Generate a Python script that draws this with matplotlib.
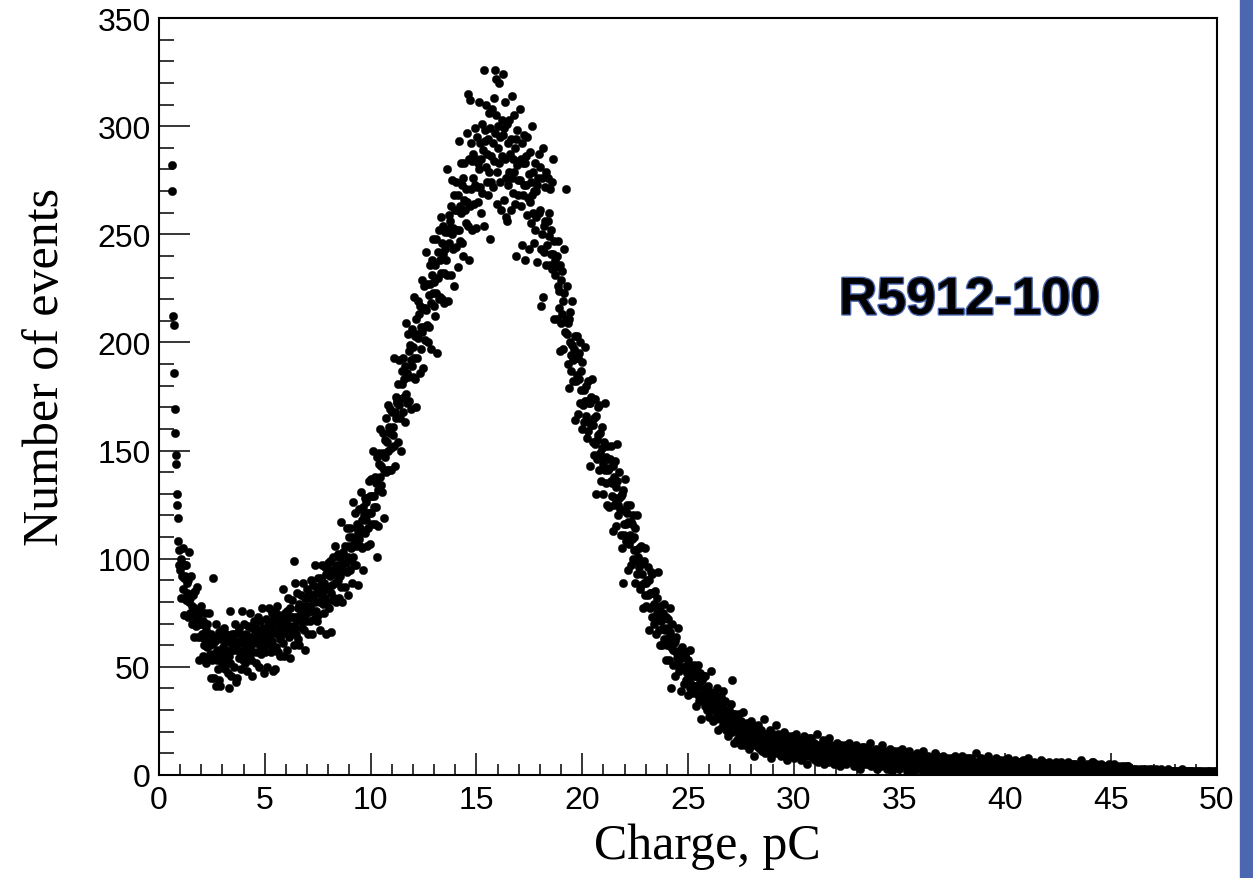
import numpy as np
import matplotlib.pyplot as plt
import matplotlib.patheffects as pe
from matplotlib.patches import Rectangle
from matplotlib.ticker import MultipleLocator

# Charge spectrum, R5912-100 PMT. One row = 1 pC, 40 bins of 0.025 pC each.
bin_width = 0.025

counts_00_10 = [
    [0, 0, 0, 0, 0, 0, 0, 0, 0, 0, 0, 0, 0, 0, 0, 0, 0, 0, 0, 0, 0, 0, 0, 0, 282, 270, 212, 208, 186, 169, 158, 148, 144, 130, 125, 119, 108, 104, 97, 95],
    [97, 82, 100, 92, 105, 86, 91, 74, 97, 92, 81, 97, 84, 89, 73, 90, 103, 80, 75, 82, 92, 78, 70, 83, 84, 64, 77, 85, 73, 69, 75, 87, 70, 64, 73, 76, 53, 70, 64, 78],
    [65, 70, 55, 71, 65, 60, 75, 63, 67, 52, 70, 59, 62, 54, 75, 60, 56, 65, 45, 61, 53, 91, 61, 56, 45, 62, 64, 41, 70, 53, 58, 49, 44, 66, 54, 41, 63, 57, 52, 67],
    [59, 50, 68, 56, 62, 49, 58, 65, 53, 47, 62, 40, 55, 76, 52, 61, 46, 65, 58, 62, 61, 50, 65, 58, 70, 43, 59, 45, 66, 62, 54, 68, 57, 61, 49, 65, 76, 56, 53, 61],
    [70, 58, 52, 64, 65, 48, 61, 69, 58, 55, 63, 75, 59, 53, 64, 68, 46, 64, 57, 71, 61, 67, 52, 68, 63, 57, 73, 61, 66, 50, 71, 60, 64, 56, 77, 63, 59, 68, 47, 65],
    [57, 72, 66, 61, 50, 69, 71, 64, 77, 60, 65, 57, 69, 75, 62, 48, 72, 66, 49, 76, 68, 59, 78, 65, 71, 57, 68, 74, 63, 55, 73, 68, 65, 86, 61, 71, 55, 75, 67, 72],
    [71, 58, 76, 68, 82, 64, 69, 54, 77, 73, 65, 81, 69, 73, 60, 99, 89, 68, 65, 73, 84, 71, 63, 77, 79, 60, 74, 83, 71, 68, 76, 89, 73, 67, 78, 82, 58, 78, 71, 86],
    [75, 82, 65, 84, 78, 71, 90, 76, 83, 65, 88, 76, 81, 72, 97, 80, 76, 87, 71, 84, 74, 91, 86, 80, 67, 88, 91, 82, 97, 79, 85, 75, 89, 96, 82, 65, 93, 86, 80, 98],
    [87, 77, 92, 99, 84, 66, 95, 88, 81, 101, 93, 82, 106, 89, 97, 80, 94, 102, 90, 82, 101, 95, 92, 117, 87, 98, 80, 103, 95, 101, 101, 87, 106, 98, 114, 94, 101, 83, 110, 106],
    [95, 114, 100, 105, 89, 110, 126, 101, 97, 107, 121, 106, 97, 114, 116, 88, 112, 123, 109, 106, 114, 131, 112, 105, 118, 124, 95, 120, 112, 128, 118, 126, 106, 128, 121, 114, 136, 121, 129, 107],
]

counts_10_20 = [
    [137, 121, 129, 116, 150, 129, 124, 138, 116, 135, 124, 147, 101, 132, 115, 144, 149, 138, 160, 134, 143, 131, 149, 158, 141, 119, 155, 147, 140, 165, 154, 141, 171, 150, 161, 141, 158, 169, 151, 141],
    [168, 161, 157, 193, 152, 168, 143, 175, 165, 173, 172, 154, 181, 171, 192, 165, 174, 150, 187, 181, 168, 193, 175, 183, 163, 189, 209, 176, 172, 186, 204, 184, 173, 196, 199, 169, 192, 206, 189, 184],
    [198, 221, 193, 183, 203, 211, 170, 204, 193, 219, 202, 213, 186, 217, 207, 197, 229, 205, 216, 188, 226, 207, 216, 201, 242, 215, 208, 227, 200, 222, 207, 236, 227, 218, 197, 231, 238, 223, 248, 217],
    [228, 212, 236, 248, 223, 195, 242, 230, 220, 252, 238, 221, 258, 232, 246, 220, 241, 254, 232, 218, 251, 243, 238, 280, 231, 251, 219, 259, 246, 256, 253, 231, 263, 250, 275, 243, 253, 226, 268, 261],
    [244, 274, 252, 261, 235, 268, 293, 252, 247, 263, 283, 260, 246, 273, 276, 240, 266, 283, 261, 255, 271, 297, 265, 254, 315, 285, 238, 312, 263, 292, 271, 284, 252, 287, 276, 264, 299, 273, 285, 253],
    [295, 272, 283, 265, 311, 280, 272, 292, 260, 285, 269, 301, 289, 326, 254, 293, 298, 281, 310, 274, 287, 268, 294, 306, 279, 248, 299, 286, 274, 308, 292, 272, 313, 284, 297, 326, 322, 305, 279, 264],
    [300, 290, 283, 320, 274, 295, 261, 303, 286, 296, 324, 266, 299, 285, 311, 276, 258, 256, 301, 292, 273, 303, 279, 287, 261, 294, 314, 276, 269, 285, 305, 279, 264, 290, 294, 240, 282, 298, 275, 268],
    [284, 308, 275, 263, 285, 292, 245, 283, 268, 296, 273, 283, 238, 286, 273, 259, 295, 267, 278, 243, 288, 265, 274, 255, 300, 268, 260, 279, 246, 270, 252, 283, 270, 258, 237, 273, 276, 260, 287, 281],
    [261, 243, 217, 276, 250, 221, 290, 254, 242, 272, 256, 236, 279, 245, 256, 276, 249, 260, 236, 271, 252, 241, 234, 274, 285, 241, 211, 247, 231, 238, 235, 211, 240, 226, 247, 216, 224, 196, 236, 229],
    [209, 233, 213, 219, 197, 223, 243, 205, 271, 211, 226, 204, 190, 209, 211, 179, 200, 214, 194, 187, 199, 219, 192, 182, 197, 203, 164, 193, 182, 203, 185, 193, 167, 195, 183, 172, 200, 178, 187, 160],
]

counts_20_30 = [
    [191, 171, 178, 163, 198, 173, 166, 180, 156, 173, 159, 182, 172, 163, 143, 172, 175, 162, 183, 154, 162, 148, 165, 174, 153, 130, 166, 155, 146, 170, 157, 141, 171, 149, 158, 136, 151, 161, 144, 130],
    [154, 146, 141, 172, 135, 147, 125, 152, 141, 146, 142, 124, 146, 136, 152, 129, 135, 113, 143, 138, 125, 145, 128, 133, 115, 136, 153, 125, 120, 128, 140, 123, 111, 129, 130, 105, 89, 132, 116, 111],
    [122, 137, 116, 108, 121, 125, 95, 117, 107, 125, 111, 117, 97, 116, 109, 100, 120, 104, 110, 89, 114, 99, 104, 93, 120, 101, 96, 105, 86, 99, 88, 106, 98, 93, 77, 98, 99, 89, 105, 83],
    [89, 78, 90, 96, 83, 67, 90, 84, 77, 94, 84, 73, 93, 78, 84, 70, 79, 85, 73, 65, 82, 75, 72, 94, 67, 75, 60, 78, 71, 75, 72, 60, 75, 68, 79, 63, 67, 53, 73, 68],
    [60, 72, 62, 64, 53, 66, 77, 59, 40, 61, 70, 58, 51, 61, 62, 46, 57, 64, 54, 51, 57, 68, 53, 48, 56, 58, 39, 54, 49, 59, 50, 55, 42, 55, 49, 44, 57, 47, 51, 37],
    [53, 44, 47, 40, 58, 46, 42, 50, 38, 47, 39, 51, 46, 41, 32, 46, 48, 41, 51, 37, 41, 34, 43, 47, 37, 26, 44, 39, 34, 46, 39, 32, 46, 36, 40, 30, 37, 41, 33, 27],
    [39, 35, 33, 48, 30, 36, 25, 38, 33, 36, 34, 26, 37, 32, 40, 28, 31, 21, 35, 32, 26, 36, 28, 30, 22, 32, 39, 26, 24, 28, 34, 26, 21, 29, 29, 18, 26, 30, 23, 21],
    [25, 33, 44, 20, 26, 28, 15, 25, 21, 28, 23, 25, 16, 25, 22, 18, 28, 21, 23, 14, 25, 19, 22, 17, 29, 20, 18, 23, 14, 21, 16, 24, 21, 18, 12, 21, 22, 18, 25, 16],
    [18, 14, 20, 23, 16, 9, 21, 17, 14, 22, 18, 13, 23, 16, 19, 12, 17, 21, 15, 11, 19, 16, 15, 26, 13, 18, 10, 19, 16, 18, 16, 11, 18, 15, 21, 13, 15, 8, 19, 17],
    [12, 19, 14, 15, 10, 17, 23, 13, 11, 15, 19, 14, 10, 16, 17, 9, 14, 18, 13, 11, 15, 20, 13, 10, 15, 17, 7, 15, 12, 18, 13, 15, 9, 16, 13, 11, 18, 12, 15, 8],
]

counts_30_40 = [
    [16, 12, 14, 10, 19, 13, 11, 15, 9, 14, 10, 16, 14, 11, 7, 15, 16, 12, 18, 10, 12, 9, 14, 16, 11, 5, 15, 12, 10, 17, 13, 9, 17, 11, 14, 8, 12, 15, 10, 7],
    [14, 12, 10, 19, 9, 13, 6, 14, 11, 13, 12, 7, 14, 11, 16, 9, 11, 5, 14, 12, 8, 14, 10, 11, 6, 12, 17, 9, 8, 11, 14, 10, 7, 12, 12, 5, 10, 13, 9, 8],
    [11, 15, 9, 7, 11, 13, 4, 11, 8, 14, 9, 12, 6, 12, 10, 7, 14, 9, 11, 5, 12, 8, 10, 7, 15, 9, 8, 11, 6, 10, 7, 12, 10, 8, 4, 11, 12, 9, 14, 7],
    [9, 6, 10, 12, 8, 3, 11, 9, 7, 13, 9, 6, 13, 8, 10, 5, 9, 12, 7, 5, 10, 9, 8, 15, 6, 9, 4, 11, 8, 10, 9, 5, 10, 8, 12, 6, 8, 3, 11, 9],
    [6, 11, 7, 9, 4, 10, 14, 7, 6, 8, 11, 7, 5, 9, 9, 3, 8, 10, 7, 6, 8, 12, 7, 5, 8, 10, 2, 8, 6, 11, 7, 9, 4, 9, 7, 5, 11, 7, 8, 3],
    [10, 6, 8, 5, 12, 7, 6, 9, 4, 8, 5, 10, 8, 6, 2, 8, 9, 7, 11, 5, 7, 4, 8, 9, 5, 1, 8, 6, 5, 9, 7, 4, 10, 6, 8, 3, 7, 9, 5, 3],
    [8, 6, 5, 11, 4, 7, 2, 8, 6, 7, 7, 3, 8, 6, 9, 4, 6, 2, 8, 7, 4, 8, 5, 6, 2, 7, 10, 5, 4, 6, 9, 5, 3, 7, 7, 2, 6, 8, 5, 4],
    [6, 9, 5, 3, 6, 7, 1, 6, 4, 8, 5, 7, 2, 7, 5, 4, 8, 5, 6, 2, 7, 4, 6, 3, 9, 5, 4, 7, 2, 6, 3, 8, 6, 5, 1, 6, 7, 5, 9, 4],
    [5, 3, 6, 8, 4, 1, 7, 5, 3, 8, 5, 3, 8, 4, 6, 2, 5, 7, 4, 2, 6, 5, 4, 10, 3, 5, 1, 6, 4, 6, 5, 2, 6, 4, 8, 3, 5, 1, 6, 5],
    [3, 7, 4, 5, 2, 6, 9, 4, 3, 5, 7, 4, 2, 5, 6, 1, 4, 6, 4, 3, 5, 8, 4, 2, 5, 6, 1, 5, 3, 7, 4, 6, 2, 6, 4, 3, 7, 4, 5, 1],
]

counts_40_50 = [
    [6, 3, 4, 2, 8, 4, 3, 5, 2, 5, 3, 6, 5, 4, 1, 5, 6, 4, 7, 3, 4, 2, 5, 6, 3, 1, 5, 4, 3, 6, 4, 2, 7, 4, 5, 2, 4, 6, 3, 1],
    [5, 4, 3, 8, 2, 4, 1, 5, 4, 5, 4, 1, 5, 4, 6, 3, 4, 1, 5, 4, 2, 5, 3, 4, 1, 5, 7, 3, 2, 4, 6, 3, 2, 4, 5, 1, 3, 5, 3, 2],
    [4, 6, 3, 2, 4, 5, 1, 4, 2, 5, 3, 4, 1, 5, 3, 2, 6, 3, 4, 1, 5, 3, 3, 2, 6, 3, 2, 4, 1, 4, 2, 5, 4, 3, 1, 4, 5, 3, 6, 2],
    [3, 1, 4, 5, 2, 1, 4, 3, 2, 5, 3, 2, 5, 3, 4, 1, 3, 4, 2, 1, 4, 3, 2, 7, 2, 3, 1, 4, 3, 4, 3, 1, 4, 3, 5, 2, 3, 1, 4, 3],
    [2, 4, 2, 3, 6, 4, 6, 2, 1, 3, 5, 2, 1, 3, 4, 1, 3, 4, 2, 1, 3, 5, 2, 1, 3, 4, 1, 3, 2, 4, 2, 3, 1, 4, 3, 2, 5, 2, 3, 1],
    [4, 2, 3, 1, 5, 2, 2, 3, 1, 3, 1, 4, 3, 2, 1, 3, 3, 2, 4, 1, 2, 1, 3, 4, 2, 1, 3, 2, 1, 4, 2, 1, 4, 2, 3, 1, 2, 3, 1, 1],
    [2, 1, 3, 2, 1, 2, 1, 3, 2, 2, 1, 2, 0, 3, 2, 1, 2, 2, 1, 3, 2, 1, 1, 2, 3, 1, 2, 0, 2, 1, 2, 3, 1, 2, 1, 2, 1, 3, 2, 1],
    [1, 2, 1, 2, 3, 1, 2, 1, 0, 2, 1, 2, 2, 1, 3, 1, 1, 2, 1, 2, 2, 1, 0, 1, 2, 2, 1, 3, 1, 1, 2, 1, 2, 1, 0, 2, 1, 2, 1, 2],
    [1, 2, 1, 1, 2, 0, 1, 2, 1, 2, 1, 1, 2, 1, 3, 1, 0, 1, 2, 1, 1, 2, 1, 1, 2, 1, 0, 2, 1, 1, 2, 1, 1, 2, 1, 0, 1, 2, 1, 1],
    [1, 1, 2, 1, 0, 1, 2, 1, 1, 1, 2, 1, 0, 1, 1, 2, 1, 1, 0, 1, 2, 1, 1, 1, 2, 0, 1, 1, 2, 1, 1, 0, 1, 2, 1, 1, 1, 2, 1, 1],
]

x_ticks = [0, 5, 10, 15, 20, 25, 30, 35, 40, 45, 50]
y_ticks = [0, 50, 100, 150, 200, 250, 300, 350]

# bin centres
rows = counts_00_10 + counts_10_20 + counts_20_30 + counts_30_40 + counts_40_50
xs, ys = [], []
for r, row in enumerate(rows):
    row = np.asarray(row, dtype=float)
    xs.append(r + bin_width * (np.arange(len(row)) + 0.5))
    ys.append(row)
x = np.concatenate(xs)
y = np.concatenate(ys)
keep = y > 0   # empty bins are not drawn

fig = plt.figure(figsize=(12.53, 8.79), dpi=100)
ax = fig.add_axes([159/1253, 1 - 776/879, 1058/1253, 757/879])

ax.plot(x[keep], y[keep], 'o', ls='none', ms=6.0, mfc='black', mec='black', mew=0.3)

ax.set_xlim(0, 50)
ax.set_ylim(0, 350)
ax.set_xticks(x_ticks)
ax.set_yticks(y_ticks)
ax.xaxis.set_minor_locator(MultipleLocator(1))
ax.yaxis.set_minor_locator(MultipleLocator(10))
ax.tick_params(which='both', direction='in', top=False, right=False, width=1.1)
ax.tick_params(axis='x', which='major', length=16, pad=7)
ax.tick_params(axis='x', which='minor', length=8)
ax.tick_params(axis='y', which='major', length=22, pad=6)
ax.tick_params(axis='y', which='minor', length=11)
for lab in ax.get_xticklabels() + ax.get_yticklabels():
    lab.set_fontfamily('Liberation Sans')
    lab.set_fontsize(23)
for s in ax.spines.values():
    s.set_linewidth(1.5)

ax.set_xlabel('Charge, pC', family='Liberation Serif', fontsize=36)
ax.xaxis.set_label_coords(0.518, -0.063)
ax.set_ylabel('Number of events', family='Liberation Serif', fontsize=36)
ax.yaxis.set_label_coords(-0.085, 0.54)

ax.text(38.3, 213, 'R5912-100', ha='center', va='baseline', family='Liberation Sans',
        weight='bold', fontsize=38, color='black',
        path_effects=[pe.Stroke(linewidth=2, foreground='#4a67b0'), pe.Normal()])

# blue strip at the right edge
fig.patches.append(Rectangle((1240/1253, 0), 13/1253, 1, transform=fig.transFigure,
                             color='#4a67b0', zorder=0))

fig.savefig('out.png', dpi=100)
